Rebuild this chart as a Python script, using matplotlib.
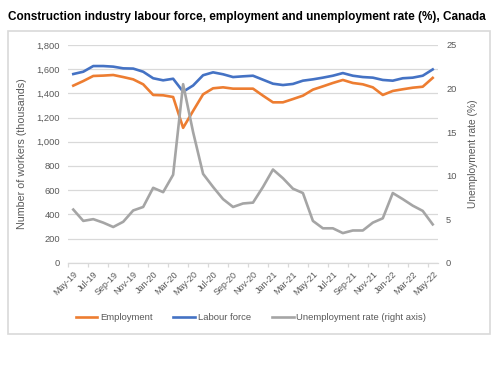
import matplotlib
matplotlib.use("Agg")
import matplotlib.pyplot as plt
from matplotlib.patches import Rectangle
from matplotlib.lines import Line2D

plt.rcParams['font.family'] = ['Liberation Sans', 'DejaVu Sans']

months = ["May-19","Jun-19","Jul-19","Aug-19","Sep-19","Oct-19","Nov-19","Dec-19",
          "Jan-20","Feb-20","Mar-20","Apr-20","May-20","Jun-20","Jul-20","Aug-20",
          "Sep-20","Oct-20","Nov-20","Dec-20","Jan-21","Feb-21","Mar-21","Apr-21",
          "May-21","Jun-21","Jul-21","Aug-21","Sep-21","Oct-21","Nov-21","Dec-21",
          "Jan-22","Feb-22","Mar-22","Apr-22","May-22"]

employment = [1464, 1502, 1544, 1547, 1552, 1535, 1516, 1475, 1387, 1384, 1370, 1115,
              1255, 1392, 1442, 1450, 1439, 1439, 1439, 1381, 1326, 1326, 1353, 1381,
              1431, 1458, 1486, 1511, 1486, 1475, 1450, 1387, 1420, 1434, 1447, 1455, 1528]

labour_force = [1560, 1579, 1626, 1626, 1621, 1607, 1605, 1579, 1525, 1508, 1521, 1414,
                1465, 1550, 1574, 1558, 1535, 1541, 1546, 1513, 1480, 1469, 1478, 1505,
                1516, 1530, 1546, 1568, 1546, 1535, 1530, 1511, 1505, 1525, 1530, 1546, 1598]

unemp_rate = [6.1, 4.8, 5.0, 4.6, 4.1, 4.7, 6.0, 6.4, 8.6, 8.1, 10.1, 20.5,
              15.0, 10.2, 8.7, 7.3, 6.4, 6.8, 6.9, 8.7, 10.7, 9.7, 8.5, 8.0,
              4.8, 3.95, 3.95, 3.4, 3.7, 3.7, 4.6, 5.1, 8.0, 7.3, 6.55, 5.95, 4.4]

left_ticks = [0, 200, 400, 600, 800, 1000, 1200, 1400, 1600, 1800]
right_ticks = [0, 5, 10, 15, 20, 25]

W, H = 500, 383
fig = plt.figure(figsize=(W/100, H/100), dpi=100)
fig.patch.set_facecolor('white')

# chart frame
fig.patches.append(Rectangle((8/W, 1-334/H), (490-8)/W, (334-31)/H,
                             transform=fig.transFigure, fill=False,
                             edgecolor='#d9d9d9', linewidth=1.2))

fig.text(8/W, 1-17/H, "Construction industry labour force, employment and unemployment rate (%), Canada",
         fontsize=8.5, fontweight='bold', ha='left', va='center', color='black')

ax = fig.add_axes([68.3/W, 1-262.7/H, (437.7-68.3)/W, (262.7-45)/H])
ax2 = ax.twinx()

x = list(range(len(months)))
tc = '#595959'
orange, blue, gray = '#ED7D31', '#4472C4', '#A5A5A5'

ax.set_xlim(-0.5, len(months)-0.5)
ax.set_ylim(0, 1800)
ax2.set_ylim(0, 25)
ax.set_yticks(left_ticks)
ax.set_yticklabels([f"{v:,}" for v in left_ticks])
ax2.set_yticks(right_ticks)

ax.grid(axis='y', color='#d9d9d9', linewidth=0.9)
ax.set_axisbelow(True)

for a in (ax, ax2):
    for s in a.spines.values():
        s.set_visible(False)
ax.spines['bottom'].set_visible(True)
ax.spines['bottom'].set_color('#d9d9d9')
ax.spines['bottom'].set_linewidth(0.9)

ax.tick_params(axis='y', length=0, labelsize=6.7, labelcolor=tc, pad=6)
ax2.tick_params(axis='y', length=0, labelsize=6.7, labelcolor=tc, pad=6)

ax.set_xticks(x[::2])
ax.set_xticklabels(months[::2], rotation=45, ha='right', rotation_mode='anchor',
                   fontsize=6.5, color=tc)
ax.set_xticks([i - 0.5 for i in range(0, len(months), 2)], minor=True)
ax.tick_params(axis='x', which='major', length=0, pad=5)
ax.tick_params(axis='x', which='minor', length=3, color='#d9d9d9', width=0.9)

ax.plot(x, employment, color=orange, linewidth=1.9, solid_joinstyle='round', zorder=3)
ax.plot(x, labour_force, color=blue, linewidth=1.9, solid_joinstyle='round', zorder=3)
ax2.plot(x, unemp_rate, color=gray, linewidth=1.9, solid_joinstyle='round', zorder=3)

ax.set_ylabel("Number of workers (thousands)", fontsize=7.7, color=tc, labelpad=7)
ax2.set_ylabel("Unemployment rate (%)", fontsize=7.4, color=tc, labelpad=8)

handles = [Line2D([], [], color=orange, linewidth=1.9),
           Line2D([], [], color=blue, linewidth=1.9),
           Line2D([], [], color=gray, linewidth=1.9)]
fig.legend(handles, ["Employment", "Labour force", "Unemployment rate (right axis)"],
           loc='center', bbox_to_anchor=(251/W, 1-318/H), ncol=3, frameon=False,
           fontsize=6.8, labelcolor=tc, handlelength=2.3, handletextpad=0.3,
           columnspacing=2.2)

fig.savefig("out.png", dpi=100, facecolor='white')
